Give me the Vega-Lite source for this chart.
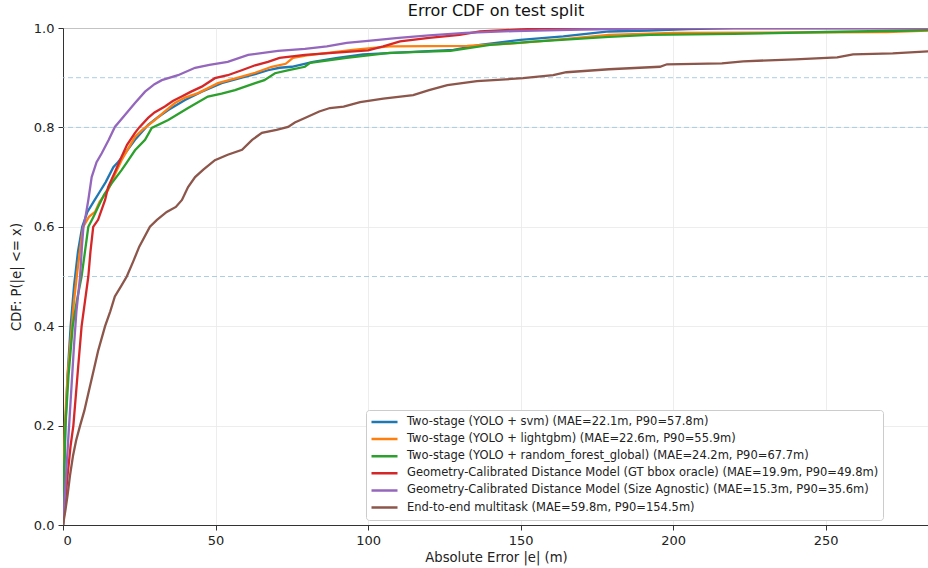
{
  "$schema": "https://vega.github.io/schema/vega-lite/v6.json",
  "autosize": {"type": "none"},
  "padding": {"left": 63, "top": 28, "right": 0, "bottom": 43},
  "width": 866,
  "height": 497,
  "title": {"text": "Error CDF on test split", "fontSize": 16, "fontWeight": "normal", "color": "#111", "anchor": "middle", "frame": "group", "offset": 3},
  "datasets": {
    "refs": [{"y": 0.5}, {"y": 0.8}, {"y": 0.9}],
    "curves": [
      {"m": "Two-stage (YOLO + svm) (MAE=22.1m, P90=57.8m)", "x": 0, "y": 0},
      {"m": "Two-stage (YOLO + svm) (MAE=22.1m, P90=57.8m)", "x": 0.3, "y": 0.08},
      {"m": "Two-stage (YOLO + svm) (MAE=22.1m, P90=57.8m)", "x": 0.8, "y": 0.2},
      {"m": "Two-stage (YOLO + svm) (MAE=22.1m, P90=57.8m)", "x": 1.5, "y": 0.3},
      {"m": "Two-stage (YOLO + svm) (MAE=22.1m, P90=57.8m)", "x": 2.5, "y": 0.4},
      {"m": "Two-stage (YOLO + svm) (MAE=22.1m, P90=57.8m)", "x": 3.6, "y": 0.48},
      {"m": "Two-stage (YOLO + svm) (MAE=22.1m, P90=57.8m)", "x": 4.9, "y": 0.55},
      {"m": "Two-stage (YOLO + svm) (MAE=22.1m, P90=57.8m)", "x": 6.3, "y": 0.6},
      {"m": "Two-stage (YOLO + svm) (MAE=22.1m, P90=57.8m)", "x": 8, "y": 0.63},
      {"m": "Two-stage (YOLO + svm) (MAE=22.1m, P90=57.8m)", "x": 10, "y": 0.65},
      {"m": "Two-stage (YOLO + svm) (MAE=22.1m, P90=57.8m)", "x": 12, "y": 0.67},
      {"m": "Two-stage (YOLO + svm) (MAE=22.1m, P90=57.8m)", "x": 14, "y": 0.69},
      {"m": "Two-stage (YOLO + svm) (MAE=22.1m, P90=57.8m)", "x": 16.5, "y": 0.72},
      {"m": "Two-stage (YOLO + svm) (MAE=22.1m, P90=57.8m)", "x": 18, "y": 0.73},
      {"m": "Two-stage (YOLO + svm) (MAE=22.1m, P90=57.8m)", "x": 20, "y": 0.745},
      {"m": "Two-stage (YOLO + svm) (MAE=22.1m, P90=57.8m)", "x": 23.6, "y": 0.775},
      {"m": "Two-stage (YOLO + svm) (MAE=22.1m, P90=57.8m)", "x": 27.9, "y": 0.805},
      {"m": "Two-stage (YOLO + svm) (MAE=22.1m, P90=57.8m)", "x": 31, "y": 0.82},
      {"m": "Two-stage (YOLO + svm) (MAE=22.1m, P90=57.8m)", "x": 34.5, "y": 0.835},
      {"m": "Two-stage (YOLO + svm) (MAE=22.1m, P90=57.8m)", "x": 40, "y": 0.855},
      {"m": "Two-stage (YOLO + svm) (MAE=22.1m, P90=57.8m)", "x": 45.5, "y": 0.872},
      {"m": "Two-stage (YOLO + svm) (MAE=22.1m, P90=57.8m)", "x": 52, "y": 0.889},
      {"m": "Two-stage (YOLO + svm) (MAE=22.1m, P90=57.8m)", "x": 58.6, "y": 0.9},
      {"m": "Two-stage (YOLO + svm) (MAE=22.1m, P90=57.8m)", "x": 63, "y": 0.907},
      {"m": "Two-stage (YOLO + svm) (MAE=22.1m, P90=57.8m)", "x": 67.2, "y": 0.915},
      {"m": "Two-stage (YOLO + svm) (MAE=22.1m, P90=57.8m)", "x": 71, "y": 0.92},
      {"m": "Two-stage (YOLO + svm) (MAE=22.1m, P90=57.8m)", "x": 75, "y": 0.922},
      {"m": "Two-stage (YOLO + svm) (MAE=22.1m, P90=57.8m)", "x": 82, "y": 0.932},
      {"m": "Two-stage (YOLO + svm) (MAE=22.1m, P90=57.8m)", "x": 90, "y": 0.94},
      {"m": "Two-stage (YOLO + svm) (MAE=22.1m, P90=57.8m)", "x": 98.4, "y": 0.947},
      {"m": "Two-stage (YOLO + svm) (MAE=22.1m, P90=57.8m)", "x": 114.8, "y": 0.952},
      {"m": "Two-stage (YOLO + svm) (MAE=22.1m, P90=57.8m)", "x": 128, "y": 0.956},
      {"m": "Two-stage (YOLO + svm) (MAE=22.1m, P90=57.8m)", "x": 136.7, "y": 0.966},
      {"m": "Two-stage (YOLO + svm) (MAE=22.1m, P90=57.8m)", "x": 150, "y": 0.976},
      {"m": "Two-stage (YOLO + svm) (MAE=22.1m, P90=57.8m)", "x": 164, "y": 0.983},
      {"m": "Two-stage (YOLO + svm) (MAE=22.1m, P90=57.8m)", "x": 179, "y": 0.993},
      {"m": "Two-stage (YOLO + svm) (MAE=22.1m, P90=57.8m)", "x": 192, "y": 0.995},
      {"m": "Two-stage (YOLO + svm) (MAE=22.1m, P90=57.8m)", "x": 205, "y": 0.998},
      {"m": "Two-stage (YOLO + svm) (MAE=22.1m, P90=57.8m)", "x": 220, "y": 1.0},
      {"m": "Two-stage (YOLO + svm) (MAE=22.1m, P90=57.8m)", "x": 284, "y": 1.0},

      {"m": "Two-stage (YOLO + lightgbm) (MAE=22.6m, P90=55.9m)", "x": 0, "y": 0},
      {"m": "Two-stage (YOLO + lightgbm) (MAE=22.6m, P90=55.9m)", "x": 0.2, "y": 0.1},
      {"m": "Two-stage (YOLO + lightgbm) (MAE=22.6m, P90=55.9m)", "x": 0.6, "y": 0.2},
      {"m": "Two-stage (YOLO + lightgbm) (MAE=22.6m, P90=55.9m)", "x": 1.5, "y": 0.3},
      {"m": "Two-stage (YOLO + lightgbm) (MAE=22.6m, P90=55.9m)", "x": 2.9, "y": 0.4},
      {"m": "Two-stage (YOLO + lightgbm) (MAE=22.6m, P90=55.9m)", "x": 3.6, "y": 0.45},
      {"m": "Two-stage (YOLO + lightgbm) (MAE=22.6m, P90=55.9m)", "x": 4.5, "y": 0.5},
      {"m": "Two-stage (YOLO + lightgbm) (MAE=22.6m, P90=55.9m)", "x": 5.5, "y": 0.55},
      {"m": "Two-stage (YOLO + lightgbm) (MAE=22.6m, P90=55.9m)", "x": 6.6, "y": 0.6},
      {"m": "Two-stage (YOLO + lightgbm) (MAE=22.6m, P90=55.9m)", "x": 8.5, "y": 0.62},
      {"m": "Two-stage (YOLO + lightgbm) (MAE=22.6m, P90=55.9m)", "x": 10.5, "y": 0.63},
      {"m": "Two-stage (YOLO + lightgbm) (MAE=22.6m, P90=55.9m)", "x": 12, "y": 0.65},
      {"m": "Two-stage (YOLO + lightgbm) (MAE=22.6m, P90=55.9m)", "x": 14.8, "y": 0.674},
      {"m": "Two-stage (YOLO + lightgbm) (MAE=22.6m, P90=55.9m)", "x": 17, "y": 0.705},
      {"m": "Two-stage (YOLO + lightgbm) (MAE=22.6m, P90=55.9m)", "x": 19.2, "y": 0.734},
      {"m": "Two-stage (YOLO + lightgbm) (MAE=22.6m, P90=55.9m)", "x": 23.6, "y": 0.781},
      {"m": "Two-stage (YOLO + lightgbm) (MAE=22.6m, P90=55.9m)", "x": 26, "y": 0.795},
      {"m": "Two-stage (YOLO + lightgbm) (MAE=22.6m, P90=55.9m)", "x": 30.2, "y": 0.815},
      {"m": "Two-stage (YOLO + lightgbm) (MAE=22.6m, P90=55.9m)", "x": 33, "y": 0.83},
      {"m": "Two-stage (YOLO + lightgbm) (MAE=22.6m, P90=55.9m)", "x": 36.7, "y": 0.849},
      {"m": "Two-stage (YOLO + lightgbm) (MAE=22.6m, P90=55.9m)", "x": 40, "y": 0.86},
      {"m": "Two-stage (YOLO + lightgbm) (MAE=22.6m, P90=55.9m)", "x": 44.3, "y": 0.869},
      {"m": "Two-stage (YOLO + lightgbm) (MAE=22.6m, P90=55.9m)", "x": 50.8, "y": 0.889},
      {"m": "Two-stage (YOLO + lightgbm) (MAE=22.6m, P90=55.9m)", "x": 57.4, "y": 0.9},
      {"m": "Two-stage (YOLO + lightgbm) (MAE=22.6m, P90=55.9m)", "x": 63, "y": 0.91},
      {"m": "Two-stage (YOLO + lightgbm) (MAE=22.6m, P90=55.9m)", "x": 68.4, "y": 0.922},
      {"m": "Two-stage (YOLO + lightgbm) (MAE=22.6m, P90=55.9m)", "x": 73, "y": 0.928},
      {"m": "Two-stage (YOLO + lightgbm) (MAE=22.6m, P90=55.9m)", "x": 75.4, "y": 0.94},
      {"m": "Two-stage (YOLO + lightgbm) (MAE=22.6m, P90=55.9m)", "x": 80, "y": 0.945},
      {"m": "Two-stage (YOLO + lightgbm) (MAE=22.6m, P90=55.9m)", "x": 95, "y": 0.956},
      {"m": "Two-stage (YOLO + lightgbm) (MAE=22.6m, P90=55.9m)", "x": 107, "y": 0.963},
      {"m": "Two-stage (YOLO + lightgbm) (MAE=22.6m, P90=55.9m)", "x": 132.5, "y": 0.964},
      {"m": "Two-stage (YOLO + lightgbm) (MAE=22.6m, P90=55.9m)", "x": 150, "y": 0.97},
      {"m": "Two-stage (YOLO + lightgbm) (MAE=22.6m, P90=55.9m)", "x": 165, "y": 0.978},
      {"m": "Two-stage (YOLO + lightgbm) (MAE=22.6m, P90=55.9m)", "x": 179, "y": 0.986},
      {"m": "Two-stage (YOLO + lightgbm) (MAE=22.6m, P90=55.9m)", "x": 200, "y": 0.99},
      {"m": "Two-stage (YOLO + lightgbm) (MAE=22.6m, P90=55.9m)", "x": 270, "y": 0.992},
      {"m": "Two-stage (YOLO + lightgbm) (MAE=22.6m, P90=55.9m)", "x": 284, "y": 0.995},

      {"m": "Two-stage (YOLO + random_forest_global) (MAE=24.2m, P90=67.7m)", "x": 0, "y": 0},
      {"m": "Two-stage (YOLO + random_forest_global) (MAE=24.2m, P90=67.7m)", "x": 0.3, "y": 0.1},
      {"m": "Two-stage (YOLO + random_forest_global) (MAE=24.2m, P90=67.7m)", "x": 0.8, "y": 0.2},
      {"m": "Two-stage (YOLO + random_forest_global) (MAE=24.2m, P90=67.7m)", "x": 1.8, "y": 0.3},
      {"m": "Two-stage (YOLO + random_forest_global) (MAE=24.2m, P90=67.7m)", "x": 3.2, "y": 0.4},
      {"m": "Two-stage (YOLO + random_forest_global) (MAE=24.2m, P90=67.7m)", "x": 4.5, "y": 0.45},
      {"m": "Two-stage (YOLO + random_forest_global) (MAE=24.2m, P90=67.7m)", "x": 6.1, "y": 0.5},
      {"m": "Two-stage (YOLO + random_forest_global) (MAE=24.2m, P90=67.7m)", "x": 7.2, "y": 0.55},
      {"m": "Two-stage (YOLO + random_forest_global) (MAE=24.2m, P90=67.7m)", "x": 8.3, "y": 0.6},
      {"m": "Two-stage (YOLO + random_forest_global) (MAE=24.2m, P90=67.7m)", "x": 10, "y": 0.62},
      {"m": "Two-stage (YOLO + random_forest_global) (MAE=24.2m, P90=67.7m)", "x": 11.5, "y": 0.64},
      {"m": "Two-stage (YOLO + random_forest_global) (MAE=24.2m, P90=67.7m)", "x": 13.5, "y": 0.665},
      {"m": "Two-stage (YOLO + random_forest_global) (MAE=24.2m, P90=67.7m)", "x": 16, "y": 0.688},
      {"m": "Two-stage (YOLO + random_forest_global) (MAE=24.2m, P90=67.7m)", "x": 19.2, "y": 0.714},
      {"m": "Two-stage (YOLO + random_forest_global) (MAE=24.2m, P90=67.7m)", "x": 21, "y": 0.73},
      {"m": "Two-stage (YOLO + random_forest_global) (MAE=24.2m, P90=67.7m)", "x": 23.6, "y": 0.754},
      {"m": "Two-stage (YOLO + random_forest_global) (MAE=24.2m, P90=67.7m)", "x": 26.9, "y": 0.775},
      {"m": "Two-stage (YOLO + random_forest_global) (MAE=24.2m, P90=67.7m)", "x": 29.1, "y": 0.799},
      {"m": "Two-stage (YOLO + random_forest_global) (MAE=24.2m, P90=67.7m)", "x": 34.5, "y": 0.815},
      {"m": "Two-stage (YOLO + random_forest_global) (MAE=24.2m, P90=67.7m)", "x": 41, "y": 0.839},
      {"m": "Two-stage (YOLO + random_forest_global) (MAE=24.2m, P90=67.7m)", "x": 47.5, "y": 0.862},
      {"m": "Two-stage (YOLO + random_forest_global) (MAE=24.2m, P90=67.7m)", "x": 52, "y": 0.868},
      {"m": "Two-stage (YOLO + random_forest_global) (MAE=24.2m, P90=67.7m)", "x": 56.4, "y": 0.875},
      {"m": "Two-stage (YOLO + random_forest_global) (MAE=24.2m, P90=67.7m)", "x": 63, "y": 0.889},
      {"m": "Two-stage (YOLO + random_forest_global) (MAE=24.2m, P90=67.7m)", "x": 66, "y": 0.895},
      {"m": "Two-stage (YOLO + random_forest_global) (MAE=24.2m, P90=67.7m)", "x": 69.5, "y": 0.909},
      {"m": "Two-stage (YOLO + random_forest_global) (MAE=24.2m, P90=67.7m)", "x": 74, "y": 0.915},
      {"m": "Two-stage (YOLO + random_forest_global) (MAE=24.2m, P90=67.7m)", "x": 79.3, "y": 0.922},
      {"m": "Two-stage (YOLO + random_forest_global) (MAE=24.2m, P90=67.7m)", "x": 81, "y": 0.93},
      {"m": "Two-stage (YOLO + random_forest_global) (MAE=24.2m, P90=67.7m)", "x": 93, "y": 0.94},
      {"m": "Two-stage (YOLO + random_forest_global) (MAE=24.2m, P90=67.7m)", "x": 107, "y": 0.95},
      {"m": "Two-stage (YOLO + random_forest_global) (MAE=24.2m, P90=67.7m)", "x": 127, "y": 0.954},
      {"m": "Two-stage (YOLO + random_forest_global) (MAE=24.2m, P90=67.7m)", "x": 140, "y": 0.966},
      {"m": "Two-stage (YOLO + random_forest_global) (MAE=24.2m, P90=67.7m)", "x": 153, "y": 0.972},
      {"m": "Two-stage (YOLO + random_forest_global) (MAE=24.2m, P90=67.7m)", "x": 179, "y": 0.982},
      {"m": "Two-stage (YOLO + random_forest_global) (MAE=24.2m, P90=67.7m)", "x": 192.5, "y": 0.986},
      {"m": "Two-stage (YOLO + random_forest_global) (MAE=24.2m, P90=67.7m)", "x": 220, "y": 0.988},
      {"m": "Two-stage (YOLO + random_forest_global) (MAE=24.2m, P90=67.7m)", "x": 250, "y": 0.992},
      {"m": "Two-stage (YOLO + random_forest_global) (MAE=24.2m, P90=67.7m)", "x": 278.7, "y": 0.995},
      {"m": "Two-stage (YOLO + random_forest_global) (MAE=24.2m, P90=67.7m)", "x": 284, "y": 0.996},

      {"m": "Geometry-Calibrated Distance Model (GT bbox oracle) (MAE=19.9m, P90=49.8m)", "x": 0, "y": 0},
      {"m": "Geometry-Calibrated Distance Model (GT bbox oracle) (MAE=19.9m, P90=49.8m)", "x": 0.5, "y": 0.03},
      {"m": "Geometry-Calibrated Distance Model (GT bbox oracle) (MAE=19.9m, P90=49.8m)", "x": 1.5, "y": 0.1},
      {"m": "Geometry-Calibrated Distance Model (GT bbox oracle) (MAE=19.9m, P90=49.8m)", "x": 2.5, "y": 0.16},
      {"m": "Geometry-Calibrated Distance Model (GT bbox oracle) (MAE=19.9m, P90=49.8m)", "x": 3.4, "y": 0.2},
      {"m": "Geometry-Calibrated Distance Model (GT bbox oracle) (MAE=19.9m, P90=49.8m)", "x": 4.2, "y": 0.26},
      {"m": "Geometry-Calibrated Distance Model (GT bbox oracle) (MAE=19.9m, P90=49.8m)", "x": 5, "y": 0.32},
      {"m": "Geometry-Calibrated Distance Model (GT bbox oracle) (MAE=19.9m, P90=49.8m)", "x": 6.1, "y": 0.4},
      {"m": "Geometry-Calibrated Distance Model (GT bbox oracle) (MAE=19.9m, P90=49.8m)", "x": 7.2, "y": 0.45},
      {"m": "Geometry-Calibrated Distance Model (GT bbox oracle) (MAE=19.9m, P90=49.8m)", "x": 8.3, "y": 0.5},
      {"m": "Geometry-Calibrated Distance Model (GT bbox oracle) (MAE=19.9m, P90=49.8m)", "x": 9, "y": 0.55},
      {"m": "Geometry-Calibrated Distance Model (GT bbox oracle) (MAE=19.9m, P90=49.8m)", "x": 9.9, "y": 0.6},
      {"m": "Geometry-Calibrated Distance Model (GT bbox oracle) (MAE=19.9m, P90=49.8m)", "x": 11.5, "y": 0.614},
      {"m": "Geometry-Calibrated Distance Model (GT bbox oracle) (MAE=19.9m, P90=49.8m)", "x": 13.8, "y": 0.654},
      {"m": "Geometry-Calibrated Distance Model (GT bbox oracle) (MAE=19.9m, P90=49.8m)", "x": 14.8, "y": 0.68},
      {"m": "Geometry-Calibrated Distance Model (GT bbox oracle) (MAE=19.9m, P90=49.8m)", "x": 17, "y": 0.71},
      {"m": "Geometry-Calibrated Distance Model (GT bbox oracle) (MAE=19.9m, P90=49.8m)", "x": 19.2, "y": 0.741},
      {"m": "Geometry-Calibrated Distance Model (GT bbox oracle) (MAE=19.9m, P90=49.8m)", "x": 21, "y": 0.765},
      {"m": "Geometry-Calibrated Distance Model (GT bbox oracle) (MAE=19.9m, P90=49.8m)", "x": 23.6, "y": 0.789},
      {"m": "Geometry-Calibrated Distance Model (GT bbox oracle) (MAE=19.9m, P90=49.8m)", "x": 25, "y": 0.8},
      {"m": "Geometry-Calibrated Distance Model (GT bbox oracle) (MAE=19.9m, P90=49.8m)", "x": 27.9, "y": 0.819},
      {"m": "Geometry-Calibrated Distance Model (GT bbox oracle) (MAE=19.9m, P90=49.8m)", "x": 30, "y": 0.83},
      {"m": "Geometry-Calibrated Distance Model (GT bbox oracle) (MAE=19.9m, P90=49.8m)", "x": 33.4, "y": 0.842},
      {"m": "Geometry-Calibrated Distance Model (GT bbox oracle) (MAE=19.9m, P90=49.8m)", "x": 36, "y": 0.853},
      {"m": "Geometry-Calibrated Distance Model (GT bbox oracle) (MAE=19.9m, P90=49.8m)", "x": 38.9, "y": 0.862},
      {"m": "Geometry-Calibrated Distance Model (GT bbox oracle) (MAE=19.9m, P90=49.8m)", "x": 42, "y": 0.872},
      {"m": "Geometry-Calibrated Distance Model (GT bbox oracle) (MAE=19.9m, P90=49.8m)", "x": 45.5, "y": 0.882},
      {"m": "Geometry-Calibrated Distance Model (GT bbox oracle) (MAE=19.9m, P90=49.8m)", "x": 49.8, "y": 0.899},
      {"m": "Geometry-Calibrated Distance Model (GT bbox oracle) (MAE=19.9m, P90=49.8m)", "x": 54, "y": 0.905},
      {"m": "Geometry-Calibrated Distance Model (GT bbox oracle) (MAE=19.9m, P90=49.8m)", "x": 58.6, "y": 0.915},
      {"m": "Geometry-Calibrated Distance Model (GT bbox oracle) (MAE=19.9m, P90=49.8m)", "x": 63, "y": 0.925},
      {"m": "Geometry-Calibrated Distance Model (GT bbox oracle) (MAE=19.9m, P90=49.8m)", "x": 67.2, "y": 0.932},
      {"m": "Geometry-Calibrated Distance Model (GT bbox oracle) (MAE=19.9m, P90=49.8m)", "x": 71, "y": 0.94},
      {"m": "Geometry-Calibrated Distance Model (GT bbox oracle) (MAE=19.9m, P90=49.8m)", "x": 79.3, "y": 0.946},
      {"m": "Geometry-Calibrated Distance Model (GT bbox oracle) (MAE=19.9m, P90=49.8m)", "x": 93, "y": 0.952},
      {"m": "Geometry-Calibrated Distance Model (GT bbox oracle) (MAE=19.9m, P90=49.8m)", "x": 100, "y": 0.955},
      {"m": "Geometry-Calibrated Distance Model (GT bbox oracle) (MAE=19.9m, P90=49.8m)", "x": 105, "y": 0.963},
      {"m": "Geometry-Calibrated Distance Model (GT bbox oracle) (MAE=19.9m, P90=49.8m)", "x": 110.5, "y": 0.973},
      {"m": "Geometry-Calibrated Distance Model (GT bbox oracle) (MAE=19.9m, P90=49.8m)", "x": 120, "y": 0.98},
      {"m": "Geometry-Calibrated Distance Model (GT bbox oracle) (MAE=19.9m, P90=49.8m)", "x": 130, "y": 0.986},
      {"m": "Geometry-Calibrated Distance Model (GT bbox oracle) (MAE=19.9m, P90=49.8m)", "x": 136.7, "y": 0.993},
      {"m": "Geometry-Calibrated Distance Model (GT bbox oracle) (MAE=19.9m, P90=49.8m)", "x": 150, "y": 0.997},
      {"m": "Geometry-Calibrated Distance Model (GT bbox oracle) (MAE=19.9m, P90=49.8m)", "x": 160, "y": 1.0},
      {"m": "Geometry-Calibrated Distance Model (GT bbox oracle) (MAE=19.9m, P90=49.8m)", "x": 284, "y": 1.0},

      {"m": "Geometry-Calibrated Distance Model (Size Agnostic) (MAE=15.3m, P90=35.6m)", "x": 0, "y": 0},
      {"m": "Geometry-Calibrated Distance Model (Size Agnostic) (MAE=15.3m, P90=35.6m)", "x": 0.5, "y": 0.05},
      {"m": "Geometry-Calibrated Distance Model (Size Agnostic) (MAE=15.3m, P90=35.6m)", "x": 1.2, "y": 0.12},
      {"m": "Geometry-Calibrated Distance Model (Size Agnostic) (MAE=15.3m, P90=35.6m)", "x": 2, "y": 0.2},
      {"m": "Geometry-Calibrated Distance Model (Size Agnostic) (MAE=15.3m, P90=35.6m)", "x": 2.8, "y": 0.28},
      {"m": "Geometry-Calibrated Distance Model (Size Agnostic) (MAE=15.3m, P90=35.6m)", "x": 3.6, "y": 0.36},
      {"m": "Geometry-Calibrated Distance Model (Size Agnostic) (MAE=15.3m, P90=35.6m)", "x": 4.4, "y": 0.43},
      {"m": "Geometry-Calibrated Distance Model (Size Agnostic) (MAE=15.3m, P90=35.6m)", "x": 5.6, "y": 0.5},
      {"m": "Geometry-Calibrated Distance Model (Size Agnostic) (MAE=15.3m, P90=35.6m)", "x": 6.2, "y": 0.56},
      {"m": "Geometry-Calibrated Distance Model (Size Agnostic) (MAE=15.3m, P90=35.6m)", "x": 6.7, "y": 0.6},
      {"m": "Geometry-Calibrated Distance Model (Size Agnostic) (MAE=15.3m, P90=35.6m)", "x": 7.2, "y": 0.614},
      {"m": "Geometry-Calibrated Distance Model (Size Agnostic) (MAE=15.3m, P90=35.6m)", "x": 8.3, "y": 0.654},
      {"m": "Geometry-Calibrated Distance Model (Size Agnostic) (MAE=15.3m, P90=35.6m)", "x": 9.4, "y": 0.7},
      {"m": "Geometry-Calibrated Distance Model (Size Agnostic) (MAE=15.3m, P90=35.6m)", "x": 11, "y": 0.73},
      {"m": "Geometry-Calibrated Distance Model (Size Agnostic) (MAE=15.3m, P90=35.6m)", "x": 12.7, "y": 0.748},
      {"m": "Geometry-Calibrated Distance Model (Size Agnostic) (MAE=15.3m, P90=35.6m)", "x": 15, "y": 0.775},
      {"m": "Geometry-Calibrated Distance Model (Size Agnostic) (MAE=15.3m, P90=35.6m)", "x": 17, "y": 0.801},
      {"m": "Geometry-Calibrated Distance Model (Size Agnostic) (MAE=15.3m, P90=35.6m)", "x": 20.3, "y": 0.825},
      {"m": "Geometry-Calibrated Distance Model (Size Agnostic) (MAE=15.3m, P90=35.6m)", "x": 23.6, "y": 0.849},
      {"m": "Geometry-Calibrated Distance Model (Size Agnostic) (MAE=15.3m, P90=35.6m)", "x": 26.9, "y": 0.872},
      {"m": "Geometry-Calibrated Distance Model (Size Agnostic) (MAE=15.3m, P90=35.6m)", "x": 30, "y": 0.887},
      {"m": "Geometry-Calibrated Distance Model (Size Agnostic) (MAE=15.3m, P90=35.6m)", "x": 32.4, "y": 0.895},
      {"m": "Geometry-Calibrated Distance Model (Size Agnostic) (MAE=15.3m, P90=35.6m)", "x": 37.7, "y": 0.905},
      {"m": "Geometry-Calibrated Distance Model (Size Agnostic) (MAE=15.3m, P90=35.6m)", "x": 43.3, "y": 0.92},
      {"m": "Geometry-Calibrated Distance Model (Size Agnostic) (MAE=15.3m, P90=35.6m)", "x": 48, "y": 0.926},
      {"m": "Geometry-Calibrated Distance Model (Size Agnostic) (MAE=15.3m, P90=35.6m)", "x": 54, "y": 0.932},
      {"m": "Geometry-Calibrated Distance Model (Size Agnostic) (MAE=15.3m, P90=35.6m)", "x": 60.7, "y": 0.946},
      {"m": "Geometry-Calibrated Distance Model (Size Agnostic) (MAE=15.3m, P90=35.6m)", "x": 70.5, "y": 0.954},
      {"m": "Geometry-Calibrated Distance Model (Size Agnostic) (MAE=15.3m, P90=35.6m)", "x": 79.3, "y": 0.958},
      {"m": "Geometry-Calibrated Distance Model (Size Agnostic) (MAE=15.3m, P90=35.6m)", "x": 86.5, "y": 0.963},
      {"m": "Geometry-Calibrated Distance Model (Size Agnostic) (MAE=15.3m, P90=35.6m)", "x": 93, "y": 0.97},
      {"m": "Geometry-Calibrated Distance Model (Size Agnostic) (MAE=15.3m, P90=35.6m)", "x": 100, "y": 0.974},
      {"m": "Geometry-Calibrated Distance Model (Size Agnostic) (MAE=15.3m, P90=35.6m)", "x": 110, "y": 0.98},
      {"m": "Geometry-Calibrated Distance Model (Size Agnostic) (MAE=15.3m, P90=35.6m)", "x": 120, "y": 0.985},
      {"m": "Geometry-Calibrated Distance Model (Size Agnostic) (MAE=15.3m, P90=35.6m)", "x": 132, "y": 0.99},
      {"m": "Geometry-Calibrated Distance Model (Size Agnostic) (MAE=15.3m, P90=35.6m)", "x": 148, "y": 0.994},
      {"m": "Geometry-Calibrated Distance Model (Size Agnostic) (MAE=15.3m, P90=35.6m)", "x": 170, "y": 0.997},
      {"m": "Geometry-Calibrated Distance Model (Size Agnostic) (MAE=15.3m, P90=35.6m)", "x": 200, "y": 1.0},
      {"m": "Geometry-Calibrated Distance Model (Size Agnostic) (MAE=15.3m, P90=35.6m)", "x": 284, "y": 1.0},

      {"m": "End-to-end multitask (MAE=59.8m, P90=154.5m)", "x": 0, "y": 0},
      {"m": "End-to-end multitask (MAE=59.8m, P90=154.5m)", "x": 0.8, "y": 0.03},
      {"m": "End-to-end multitask (MAE=59.8m, P90=154.5m)", "x": 1.5, "y": 0.06},
      {"m": "End-to-end multitask (MAE=59.8m, P90=154.5m)", "x": 2.3, "y": 0.1},
      {"m": "End-to-end multitask (MAE=59.8m, P90=154.5m)", "x": 3.3, "y": 0.14},
      {"m": "End-to-end multitask (MAE=59.8m, P90=154.5m)", "x": 4.3, "y": 0.17},
      {"m": "End-to-end multitask (MAE=59.8m, P90=154.5m)", "x": 5.6, "y": 0.2},
      {"m": "End-to-end multitask (MAE=59.8m, P90=154.5m)", "x": 7, "y": 0.23},
      {"m": "End-to-end multitask (MAE=59.8m, P90=154.5m)", "x": 8.5, "y": 0.27},
      {"m": "End-to-end multitask (MAE=59.8m, P90=154.5m)", "x": 10, "y": 0.31},
      {"m": "End-to-end multitask (MAE=59.8m, P90=154.5m)", "x": 11.5, "y": 0.35},
      {"m": "End-to-end multitask (MAE=59.8m, P90=154.5m)", "x": 13.8, "y": 0.4},
      {"m": "End-to-end multitask (MAE=59.8m, P90=154.5m)", "x": 15.5, "y": 0.43},
      {"m": "End-to-end multitask (MAE=59.8m, P90=154.5m)", "x": 17, "y": 0.46},
      {"m": "End-to-end multitask (MAE=59.8m, P90=154.5m)", "x": 19, "y": 0.48},
      {"m": "End-to-end multitask (MAE=59.8m, P90=154.5m)", "x": 20.9, "y": 0.5},
      {"m": "End-to-end multitask (MAE=59.8m, P90=154.5m)", "x": 23, "y": 0.53},
      {"m": "End-to-end multitask (MAE=59.8m, P90=154.5m)", "x": 25, "y": 0.56},
      {"m": "End-to-end multitask (MAE=59.8m, P90=154.5m)", "x": 28.5, "y": 0.6},
      {"m": "End-to-end multitask (MAE=59.8m, P90=154.5m)", "x": 30.8, "y": 0.614},
      {"m": "End-to-end multitask (MAE=59.8m, P90=154.5m)", "x": 34, "y": 0.63},
      {"m": "End-to-end multitask (MAE=59.8m, P90=154.5m)", "x": 37, "y": 0.64},
      {"m": "End-to-end multitask (MAE=59.8m, P90=154.5m)", "x": 39, "y": 0.654},
      {"m": "End-to-end multitask (MAE=59.8m, P90=154.5m)", "x": 41, "y": 0.68},
      {"m": "End-to-end multitask (MAE=59.8m, P90=154.5m)", "x": 43.3, "y": 0.7},
      {"m": "End-to-end multitask (MAE=59.8m, P90=154.5m)", "x": 46, "y": 0.715},
      {"m": "End-to-end multitask (MAE=59.8m, P90=154.5m)", "x": 49.8, "y": 0.734},
      {"m": "End-to-end multitask (MAE=59.8m, P90=154.5m)", "x": 54, "y": 0.745},
      {"m": "End-to-end multitask (MAE=59.8m, P90=154.5m)", "x": 58.7, "y": 0.755},
      {"m": "End-to-end multitask (MAE=59.8m, P90=154.5m)", "x": 62, "y": 0.775},
      {"m": "End-to-end multitask (MAE=59.8m, P90=154.5m)", "x": 65.2, "y": 0.789},
      {"m": "End-to-end multitask (MAE=59.8m, P90=154.5m)", "x": 70, "y": 0.795},
      {"m": "End-to-end multitask (MAE=59.8m, P90=154.5m)", "x": 73.8, "y": 0.801},
      {"m": "End-to-end multitask (MAE=59.8m, P90=154.5m)", "x": 76, "y": 0.81},
      {"m": "End-to-end multitask (MAE=59.8m, P90=154.5m)", "x": 79.3, "y": 0.819},
      {"m": "End-to-end multitask (MAE=59.8m, P90=154.5m)", "x": 84, "y": 0.832},
      {"m": "End-to-end multitask (MAE=59.8m, P90=154.5m)", "x": 87.5, "y": 0.839},
      {"m": "End-to-end multitask (MAE=59.8m, P90=154.5m)", "x": 92, "y": 0.842},
      {"m": "End-to-end multitask (MAE=59.8m, P90=154.5m)", "x": 97.4, "y": 0.851},
      {"m": "End-to-end multitask (MAE=59.8m, P90=154.5m)", "x": 105, "y": 0.858},
      {"m": "End-to-end multitask (MAE=59.8m, P90=154.5m)", "x": 114.8, "y": 0.865},
      {"m": "End-to-end multitask (MAE=59.8m, P90=154.5m)", "x": 120, "y": 0.875},
      {"m": "End-to-end multitask (MAE=59.8m, P90=154.5m)", "x": 126, "y": 0.885},
      {"m": "End-to-end multitask (MAE=59.8m, P90=154.5m)", "x": 135.7, "y": 0.893},
      {"m": "End-to-end multitask (MAE=59.8m, P90=154.5m)", "x": 150.8, "y": 0.899},
      {"m": "End-to-end multitask (MAE=59.8m, P90=154.5m)", "x": 160.7, "y": 0.905},
      {"m": "End-to-end multitask (MAE=59.8m, P90=154.5m)", "x": 165, "y": 0.911},
      {"m": "End-to-end multitask (MAE=59.8m, P90=154.5m)", "x": 179, "y": 0.917},
      {"m": "End-to-end multitask (MAE=59.8m, P90=154.5m)", "x": 195.7, "y": 0.922},
      {"m": "End-to-end multitask (MAE=59.8m, P90=154.5m)", "x": 198, "y": 0.927},
      {"m": "End-to-end multitask (MAE=59.8m, P90=154.5m)", "x": 216, "y": 0.929},
      {"m": "End-to-end multitask (MAE=59.8m, P90=154.5m)", "x": 223, "y": 0.933},
      {"m": "End-to-end multitask (MAE=59.8m, P90=154.5m)", "x": 240, "y": 0.937},
      {"m": "End-to-end multitask (MAE=59.8m, P90=154.5m)", "x": 253.8, "y": 0.941},
      {"m": "End-to-end multitask (MAE=59.8m, P90=154.5m)", "x": 259, "y": 0.947},
      {"m": "End-to-end multitask (MAE=59.8m, P90=154.5m)", "x": 272, "y": 0.949},
      {"m": "End-to-end multitask (MAE=59.8m, P90=154.5m)", "x": 284, "y": 0.953}
    ]
  },
  "layer": [
    {
      "data": {"name": "refs"},
      "mark": {"type": "rule", "color": "#9ec5e0", "strokeWidth": 1, "strokeDash": [5, 3], "opacity": 0.85},
      "encoding": {"y": {"field": "y", "type": "quantitative"}}
    },
    {
      "data": {"name": "curves"},
      "mark": {"type": "line", "strokeWidth": 2.3, "clip": true},
      "encoding": {
        "x": {"field": "x", "type": "quantitative", "title": "Absolute Error |e| (m)",
              "scale": {"domain": [0, 283.9], "nice": false, "zero": false},
              "axis": {"values": [0, 50, 100, 150, 200, 250], "format": "d"}},
        "y": {"field": "y", "type": "quantitative", "title": "CDF: P(|e| <= x)",
              "scale": {"domain": [0, 1], "nice": false},
              "axis": {"values": [0, 0.2, 0.4, 0.6, 0.8, 1.0], "format": ".1f"}},
        "color": {"field": "m", "type": "nominal", "sort": null,
                  "scale": {"domain": [
                    "Two-stage (YOLO + svm) (MAE=22.1m, P90=57.8m)",
                    "Two-stage (YOLO + lightgbm) (MAE=22.6m, P90=55.9m)",
                    "Two-stage (YOLO + random_forest_global) (MAE=24.2m, P90=67.7m)",
                    "Geometry-Calibrated Distance Model (GT bbox oracle) (MAE=19.9m, P90=49.8m)",
                    "Geometry-Calibrated Distance Model (Size Agnostic) (MAE=15.3m, P90=35.6m)",
                    "End-to-end multitask (MAE=59.8m, P90=154.5m)"],
                    "range": ["#1f77b4", "#ff7f0e", "#2ca02c", "#d62728", "#9467bd", "#8c564b"]},
                  "legend": {"title": null, "orient": "none", "legendX": 303, "legendY": 382,
                             "symbolType": "stroke", "symbolSize": 676, "symbolStrokeWidth": 2.5,
                             "clipHeight": 16,
                             "labelFontSize": 11.5, "labelLimit": 800, "labelColor": "#222",
                             "rowPadding": 1.1, "labelOffset": 8,
                             "strokeColor": "#cccccc", "fillColor": "white", "padding": 4, "cornerRadius": 3}},
        "order": {"value": 0}
      }
    }
  ],
  "config": {
    "font": "DejaVu Sans",
    "view": {"stroke": "#333", "strokeWidth": 1},
    "axis": {
      "domainColor": "#333", "tickColor": "#333", "labelColor": "#222", "titleColor": "#222",
      "labelFontSize": 13, "titleFontSize": 13.2, "titleFontWeight": "normal",
      "tickSize": 5, "labelPadding": 4,
      "gridColor": "#e8e8e8", "gridWidth": 0.8
    },
    "axisX": {"titlePadding": 4},
    "axisY": {"titlePadding": 10}
  }
}
